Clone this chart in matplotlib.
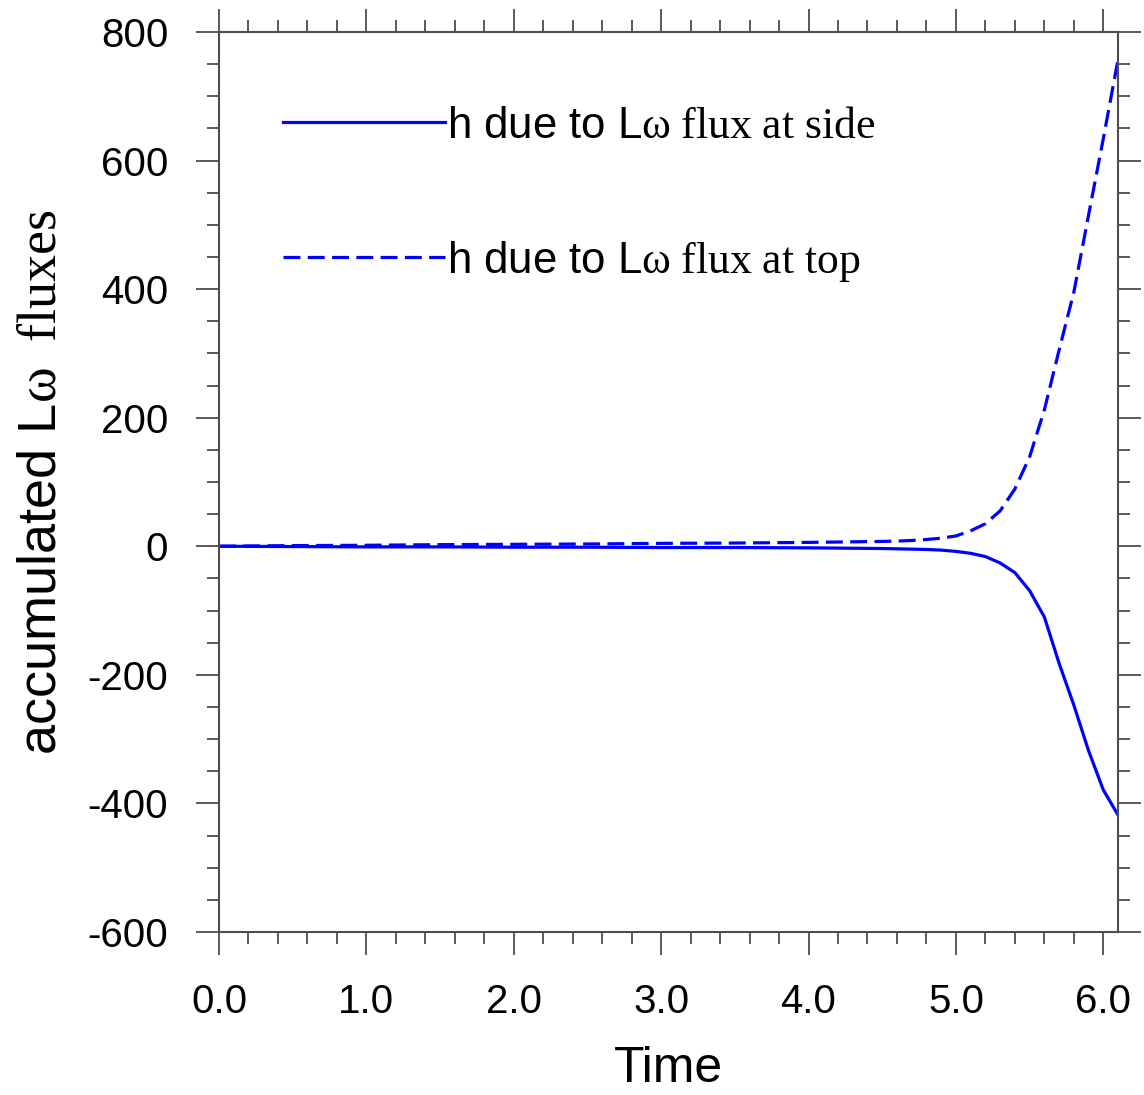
import numpy as np
import matplotlib.pyplot as plt
from matplotlib.ticker import MultipleLocator

plt.rcParams['font.family'] = ['Liberation Sans', 'DejaVu Sans']
plt.rcParams['mathtext.fontset'] = 'custom'
plt.rcParams['mathtext.rm'] = 'Liberation Serif'
plt.rcParams['mathtext.it'] = 'Liberation Serif:italic'
plt.rcParams['axes.unicode_minus'] = False

# time axis and accumulated fluxes
time = [0.0, 0.5, 1.0, 1.5, 2.0, 2.5, 3.0, 3.5, 4.0, 4.5,
        4.6, 4.7, 4.8, 4.9, 5.0, 5.1, 5.2, 5.3, 5.4, 5.5,
        5.6, 5.7, 5.8, 5.9, 6.0, 6.1]
flux_side = [0, -0.5, -1, -1, -1.5, -1.5, -2, -2, -2.5, -3.5,
             -4, -4.5, -5, -6, -8, -11, -16, -26, -41, -69,
             -110, -182, -247, -318, -379, -418]
flux_top = [0, 1, 1.5, 2.5, 3, 3.5, 4.5, 5, 6, 7.5,
            8, 9, 10.5, 12.5, 16, 24, 35, 55, 89, 139,
            212, 305, 395, 515, 634, 757]

labels = [r'h due to L$\mathrm{\omega\ flux\ at\ side}$',
          r'h due to L$\mathrm{\omega\ flux\ at\ top}$']

fig = plt.figure(figsize=(11.44, 10.95), dpi=100)
ax = fig.add_axes([0.1914, 0.1489, 0.7859, 0.8219])

ax.plot(time, flux_side, color='#0000ff', lw=2.3, label=labels[0])
ax.plot(time, flux_top, color='#0000ff', lw=2.3, dashes=(5.3, 2.3), label=labels[1])

ax.set_xlim(0, 6.1)
ax.set_ylim(-600, 800)
ax.xaxis.set_minor_locator(MultipleLocator(0.2))
ax.yaxis.set_major_locator(MultipleLocator(200))
ax.yaxis.set_minor_locator(MultipleLocator(50))
ax.set_xticks(np.arange(0, 6.1, 1.0))
ax.set_xticklabels(['%.1f' % t for t in np.arange(0, 6.1, 1.0)])

for s in ax.spines.values():
    s.set_linewidth(1.5)
    s.set_color('0.3')
ax.tick_params(which='both', direction='out', top=True, right=True,
               color='0.3', width=1.3)
ax.tick_params(which='major', length=16.5, pad=20, labelsize=29)
ax.tick_params(which='minor', length=8.6)

ax.set_xlabel('Time', fontsize=36, labelpad=18)
ax.set_ylabel(r'accumulated L$\mathrm{\omega\ \ fluxes}$', fontsize=39, labelpad=15)

ax.legend(loc='upper left', bbox_to_anchor=(0.071, 0.918), frameon=False,
          fontsize=31.5, handlelength=3.7, handletextpad=0.05,
          labelspacing=2.1, borderpad=0, borderaxespad=0)

fig.savefig('out.png', dpi=100)
